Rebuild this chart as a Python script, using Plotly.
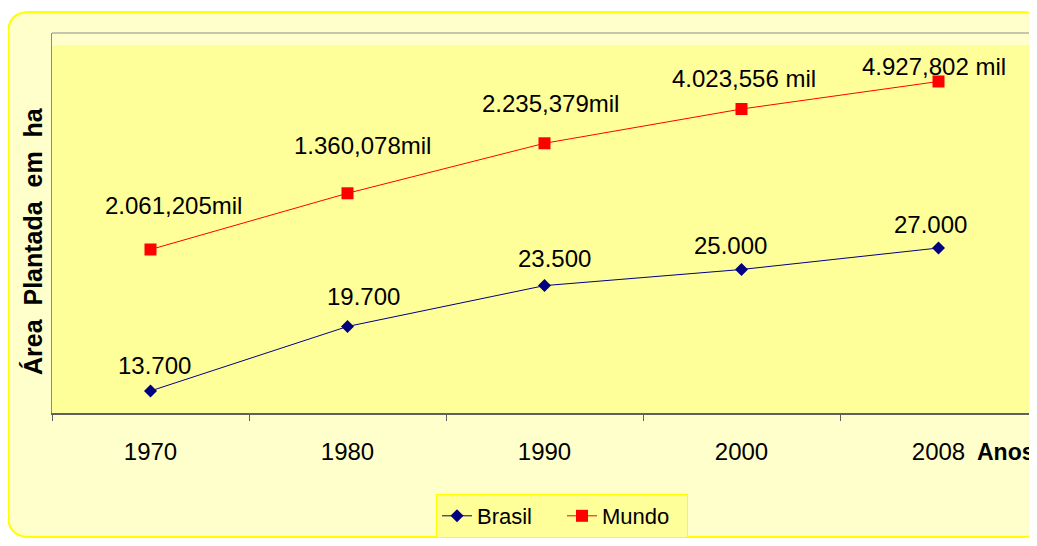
import plotly.graph_objects as go

# ---- data ----
anos = ["1970", "1980", "1990", "2000", "2008"]
brasil = [13700, 19700, 23500, 25000, 27000]
brasil_rotulos = ["13.700", "19.700", "23.500", "25.000", "27.000"]
# Mundo: plotted heights (labels are in another unit)
mundo = [26860, 32090, 36740, 39930, 42490]
mundo_rotulos = ["2.061,205mil", "1.360,078mil", "2.235,379mil",
                 "4.023,556 mil", "4.927,802 mil"]

# ---- label placement offsets (px), style only ----
brasil_dx = [4, 16, 10, -11, -8]
brasil_dy = [25, 30, 27, 24, 23]
mundo_dx = [23, 15, 6, 2, -5]
mundo_dy = [44, 48, 40, 31, 15]

# page has an 8px body margin: figure drawn from page (8,8)
OFF = 8
W, H = 1029, 530
FONT = "Arial, 'Liberation Sans', sans-serif"


def px(x):
    return (x - OFF) / W


def py(y):
    return 1 - (y - OFF) / H


fig = go.Figure()
fig.add_trace(go.Scatter(
    x=anos, y=brasil, name="Brasil", mode="lines+markers",
    line=dict(color="#000080", width=1),
    marker=dict(symbol="diamond", size=10, color="#000080"),
))
fig.add_trace(go.Scatter(
    x=anos, y=mundo, name="Mundo", mode="lines+markers",
    line=dict(color="#FF0000", width=1),
    marker=dict(symbol="square", size=12, color="#FF0000"),
))

annotations = []
for i, (v, t, dx, dy) in enumerate(zip(brasil, brasil_rotulos, brasil_dx, brasil_dy)):
    annotations.append(dict(x=i, y=v, xref="x", yref="y", text=t, showarrow=False,
                            xanchor="center", yanchor="middle", xshift=dx, yshift=dy,
                            font=dict(family=FONT, size=24, color="black")))
for i, (v, t, dx, dy) in enumerate(zip(mundo, mundo_rotulos, mundo_dx, mundo_dy)):
    annotations.append(dict(x=i, y=v, xref="x", yref="y", text=t, showarrow=False,
                            xanchor="center", yanchor="middle", xshift=dx, yshift=dy,
                            font=dict(family=FONT, size=24, color="black")))

annotations.append(dict(x=px(33), y=py(241), xref="paper", yref="paper",
                        text="<b>Área\u00a0\u00a0Plantada\u00a0\u00a0em\u00a0\u00a0ha</b>",
                        textangle=-90, showarrow=False, xanchor="center", yanchor="middle",
                        font=dict(family=FONT, size=25, color="black")))
annotations.append(dict(x=px(975), y=py(452), xref="paper", yref="paper",
                        text="<b>Anos</b>", showarrow=False, xanchor="left", yanchor="middle",
                        font=dict(family=FONT, size=23, color="black")))

# outer rounded frame
L, T, R, B, r = 8, 12, 1045, 537, 22
frame = (f"M {px(L+r)},{py(T)} L {px(R-r)},{py(T)} Q {px(R)},{py(T)} {px(R)},{py(T+r)} "
         f"L {px(R)},{py(B-r)} Q {px(R)},{py(B)} {px(R-r)},{py(B)} "
         f"L {px(L+r)},{py(B)} Q {px(L)},{py(B)} {px(L)},{py(B-r)} "
         f"L {px(L)},{py(T+r)} Q {px(L)},{py(T)} {px(L+r)},{py(T)} Z")

shapes = [
    dict(type="path", path=frame, xref="paper", yref="paper", layer="below",
         fillcolor="#FFFFCC", line=dict(color="#FFFF00", width=2)),
    dict(type="rect", xref="paper", yref="paper", layer="below",
         x0=px(52), x1=px(1037), y0=py(413), y1=py(45),
         fillcolor="#FFFF99", line=dict(width=0)),
    dict(type="line", xref="paper", yref="paper", layer="above",
         x0=px(52), x1=px(1037), y0=py(33), y1=py(33),
         line=dict(color="#8C8C8C", width=1)),
]

fig.update_layout(
    width=W, height=H,
    margin=dict(l=0, r=0, t=0, b=0),
    paper_bgcolor="white",
    plot_bgcolor="#FFFFCC",
    font=dict(family=FONT, size=24, color="black"),
    showlegend=True,
    legend=dict(orientation="h", x=px(436), y=py(494), xanchor="left", yanchor="top",
                bgcolor="#FFFF99", bordercolor="#FFFF00", borderwidth=1,
                font=dict(family=FONT, size=22, color="black"),
                itemwidth=30, tracegroupgap=0,
                entrywidth=80, entrywidthmode="pixels"),
    xaxis=dict(domain=[px(52), 1], type="category", showgrid=False, zeroline=False,
               showline=True, linecolor="#606060", linewidth=2,
               ticks="outside", tickson="boundaries", ticklen=6, tickcolor="#606060",
               tickwidth=1, ticklabelstandoff=16,
               tickfont=dict(family=FONT, size=24, color="black"),
               range=[-0.5, 4.5]),
    yaxis=dict(domain=[py(413), py(33)], range=[11650, 47000], showgrid=False,
               zeroline=False, showticklabels=False, ticks="",
               showline=True, linecolor="#8C8C8C", linewidth=1),
    annotations=annotations,
    shapes=shapes,
)

fig.write_html("out.html")
